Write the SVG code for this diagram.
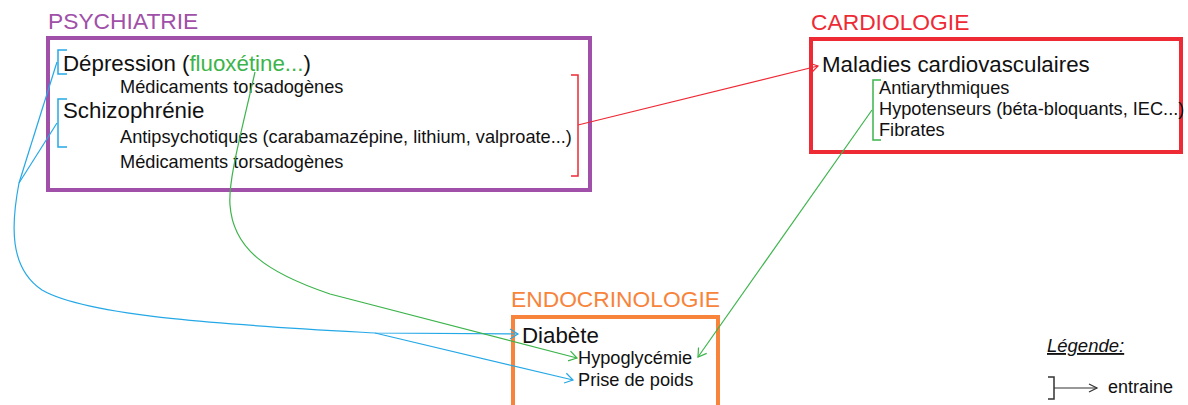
<svg xmlns="http://www.w3.org/2000/svg" width="1188" height="405" viewBox="0 0 1188 405">
  <style>
    text { font-family: "Liberation Sans", Arial, sans-serif; fill: #111; }
    .title { font-size: 22.8px; }
    .main { font-size: 22.3px; }
    .sub { font-size: 18.2px; }
    .frame { fill: none; stroke-width: 4; }
    .brk { fill: none; stroke-width: 1.5; }
    .link { fill: none; stroke-width: 1.2; }
    .blue { stroke: #25a8e6; }
    .green { stroke: #3cb44b; }
    .red { stroke: #ee2a35; }
  </style>
  <defs>
    <marker id="arrBlue" markerUnits="userSpaceOnUse" markerWidth="12" markerHeight="12" refX="9" refY="5" orient="auto" overflow="visible">
      <path d="M1,0 L9,5 L1,10" fill="none" stroke="#25a8e6" stroke-width="1.2"/>
    </marker>
    <marker id="arrGreen" markerUnits="userSpaceOnUse" markerWidth="12" markerHeight="12" refX="9" refY="5" orient="auto" overflow="visible">
      <path d="M1,0 L9,5 L1,10" fill="none" stroke="#3cb44b" stroke-width="1.2"/>
    </marker>
    <marker id="arrRed" markerUnits="userSpaceOnUse" markerWidth="12" markerHeight="12" refX="9" refY="5" orient="auto" overflow="visible">
      <path d="M1,0 L9,5 L1,10" fill="none" stroke="#ee2a35" stroke-width="1.2"/>
    </marker>
    <marker id="arrGray" markerUnits="userSpaceOnUse" markerWidth="12" markerHeight="12" refX="9" refY="4" orient="auto" overflow="visible">
      <path d="M1,0 L9,4 L1,8" fill="none" stroke="#333" stroke-width="1.2"/>
    </marker>
  </defs>

  <rect width="1188" height="405" fill="#fff"/>

  <!-- Psychiatry block -->
  <g id="psychiatrie">
    <text class="title" x="48" y="29" style="fill:#a050a8">PSYCHIATRIE</text>
    <rect class="frame" x="48" y="38" width="542" height="152" stroke="#a050a8"/>
    <text class="main" x="63" y="71">Dépression (<tspan style="fill:#3cb44b">fluoxétine...</tspan>)</text>
    <text class="sub" x="120" y="93">Médicaments torsadogènes</text>
    <text class="main" x="63" y="118">Schizophrénie</text>
    <text class="sub" x="120" y="143">Antipsychotiques (carabamazépine, lithium, valproate...)</text>
    <text class="sub" x="120" y="168">Médicaments torsadogènes</text>
    <path class="brk blue" d="M67,50 H58 V74 H67"/>
    <path class="brk blue" d="M67,99 H58 V147 H67"/>
    <path class="brk red" d="M571,75 H578 V176 H571"/>
  </g>

  <!-- Cardiology block -->
  <g id="cardiologie">
    <text class="title" x="811" y="30" style="fill:#ee2a35">CARDIOLOGIE</text>
    <rect class="frame" x="811" y="39" width="370" height="113" stroke="#ee2a35"/>
    <text class="main" x="822" y="72">Maladies cardiovasculaires</text>
    <text class="sub" x="879" y="94">Antiarythmiques</text>
    <text class="sub" x="879" y="115">Hypotenseurs (béta-bloquants, IEC...)</text>
    <text class="sub" x="879" y="136">Fibrates</text>
    <path class="brk green" d="M881,80 H873 V140 H881"/>
  </g>

  <!-- Endocrinology block -->
  <g id="endocrinologie">
    <text class="title" x="511" y="307" style="fill:#f7843a">ENDOCRINOLOGIE</text>
    <rect class="frame" x="513" y="317" width="205" height="100" stroke="#f7843a"/>
    <text class="main" x="522" y="343">Diabète</text>
    <text class="sub" x="578" y="364">Hypoglycémie</text>
    <text class="sub" x="578" y="386">Prise de poids</text>
  </g>

  <!-- Legend -->
  <g id="legende">
    <text x="1047" y="352" style="font-size:18.5px;font-style:italic;text-decoration:underline">Légende:</text>
    <path d="M1048,377 H1054 V399 H1048" fill="none" stroke="#333" stroke-width="1.5"/>
    <path d="M1054,388 H1097" fill="none" stroke="#333" stroke-width="1.2" marker-end="url(#arrGray)"/>
    <text x="1108" y="393" style="font-size:18px">entraine</text>
  </g>

  <!-- Connectors -->
  <g id="connecteurs">
    <path class="link blue" d="M57,62 L19,183"/>
    <path class="link blue" d="M57,123 L19,183"/>
    <path class="link blue" d="M19,183 C11,225 9,268 42,290 C90,318 250,326 375,333 L518,334" marker-end="url(#arrBlue)"/>
    <path class="link blue" d="M375,333 L573,380" marker-end="url(#arrBlue)"/>
    <path class="link green" d="M255,72 C242,130 228,180 230,205 C233,248 265,272 330,294 L577,358" marker-end="url(#arrGreen)"/>
    <path class="link red" d="M578,125 L818,66" marker-end="url(#arrRed)"/>
    <path class="link green" d="M872,110 L698,357" marker-end="url(#arrGreen)"/>
  </g>
</svg>
